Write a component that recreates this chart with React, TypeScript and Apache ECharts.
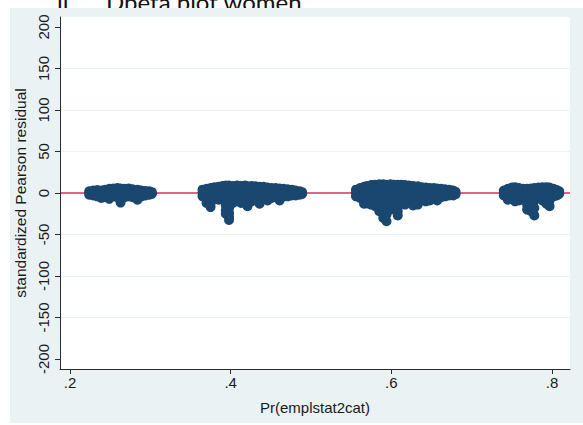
import { useEffect, useRef } from "react";
import * as echarts from "echarts";

// Each column: [predicted probability, standardized residuals observed at that probability]
type Column = [number, number[]];

const xTicks = [0.2, 0.4, 0.6, 0.8];
const yTicks = [-200, -150, -100, -50, 0, 50, 100, 150, 200];
const yGridLines = [-150, -100, -50, 50, 100, 150];
const zeroLine = 0;

const groupLow: Column[] = [
  [0.224, [2, 0, -2]],
  [0.229, [3, 0, -3]],
  [0.234, [3.5, 0, -4]],
  [0.239, [3, 0, -6]],
  [0.244, [4, 0, -5]],
  [0.249, [5, 0, -7]],
  [0.254, [5.5, 0, -4]],
  [0.259, [6, 0, -5]],
  [0.263, [5.5, 0, -6, -11.5]],
  [0.268, [5, 0, -5]],
  [0.273, [5.5, 0, -4]],
  [0.278, [4.5, 0, -5]],
  [0.284, [4, 0, -8]],
  [0.289, [3, 0, -4]],
  [0.294, [2.5, 0, -3]],
  [0.299, [2, 0, -2]],
  [0.302, [1, -1]],
];

const groupMidLow: Column[] = [
  [0.365, [4, 0, -4]],
  [0.37, [5, 0, -6, -12]],
  [0.375, [6, 0, -8, -13, -17]],
  [0.38, [7, 0, -7]],
  [0.385, [7.5, 0, -8]],
  [0.39, [8.5, 0, -8]],
  [0.394, [9, 0, -8, -15, -21, -25]],
  [0.398, [9, 0, -6, -12, -18, -24, -29, -32.5]],
  [0.403, [8.5, 0, -8, -12]],
  [0.408, [9, 0, -7]],
  [0.413, [8.5, 0, -8, -12]],
  [0.418, [9, 0, -6, -11]],
  [0.421, [8, 0, -9, -16]],
  [0.426, [8.5, 0, -7, -10]],
  [0.431, [8, 0, -6]],
  [0.436, [7.5, 0, -7, -13]],
  [0.441, [7.5, 0, -6]],
  [0.446, [6.5, 0, -5, -9]],
  [0.451, [6, 0, -6]],
  [0.456, [6, 0, -5]],
  [0.461, [5.5, 0, -6, -9]],
  [0.466, [5, 0, -4]],
  [0.471, [4.5, 0, -4]],
  [0.476, [4, 0, -3]],
  [0.481, [3, 0, -3]],
  [0.486, [2, 0, -2]],
  [0.489, [1, -1]],
];

const groupMidHigh: Column[] = [
  [0.556, [4, 0, -4]],
  [0.561, [6, 0, -6]],
  [0.566, [7.5, 0, -8, -13]],
  [0.57, [8.5, 0, -8, -12.5]],
  [0.575, [9.5, 0, -9, -14]],
  [0.58, [10, 0, -10, -16]],
  [0.585, [10.5, 0, -10, -16, -22]],
  [0.59, [10.5, 0, -8, -16, -24, -30]],
  [0.594, [10, 0, -10, -18, -26, -34]],
  [0.599, [10.5, 0, -9, -15, -20]],
  [0.603, [10, 0, -10, -18]],
  [0.608, [10, 0, -8, -16, -22, -27]],
  [0.612, [10, 0, -10]],
  [0.617, [9.5, 0, -9, -14]],
  [0.622, [9, 0, -8]],
  [0.627, [8.5, 0, -9, -15]],
  [0.633, [8, 0, -9, -14]],
  [0.638, [7, 0, -7]],
  [0.643, [6.5, 0, -6, -10]],
  [0.648, [6, 0, -6, -9]],
  [0.653, [6, 0, -6]],
  [0.657, [5.5, 0, -5, -9]],
  [0.662, [5, 0, -5]],
  [0.667, [4.5, 0, -4]],
  [0.672, [4, 0, -3]],
  [0.677, [3, 0, -3]],
  [0.68, [1.5, -1.5]],
];

const groupHigh: Column[] = [
  [0.74, [3, 0, -3]],
  [0.745, [5, 0, -5, -8]],
  [0.75, [6.5, 0, -7]],
  [0.754, [7, 0, -6, -10]],
  [0.759, [6, 0, -6, -9]],
  [0.764, [5, 0, -6]],
  [0.769, [5, 0, -8, -14, -20]],
  [0.774, [5.5, 0, -8, -15, -22]],
  [0.778, [6, 0, -9, -18, -27]],
  [0.783, [6.5, 0, -6]],
  [0.788, [7, 0, -6, -9]],
  [0.793, [7, 0, -8, -13]],
  [0.797, [6.5, 0, -9, -16]],
  [0.802, [5, 0, -4]],
  [0.806, [3.5, 0, -3]],
  [0.809, [2, -1]],
];

const FONT = "'Liberation Sans', Arial, Helvetica, sans-serif";
const NAVY = "#1A476F";
const AXIS = "#2b2b2b";
const PANEL = "#EAF2F3";
const TEXT = "#1a1a1a";

export default function App() {
  const ref = useRef<HTMLDivElement>(null);

  useEffect(() => {
    if (!ref.current) return;
    const chart = echarts.init(ref.current, null, { renderer: "svg" });

    const points = [...groupLow, ...groupMidLow, ...groupMidHigh, ...groupHigh].flatMap(
      ([x, ys]) => ys.map((y) => [x, y])
    );

    chart.setOption({
      animation: false,
      backgroundColor: "#ffffff",
      graphic: [
        {
          type: "text",
          z: 0,
          left: 57,
          top: -11,
          style: { text: "ii.", font: "24px Lato, 'Open Sans', sans-serif", fill: "#111" },
        },
        {
          type: "text",
          z: 0,
          left: 106,
          top: -11,
          style: { text: "Dbeta plot women", font: "24px Lato, 'Open Sans', sans-serif", fill: "#111" },
        },
        {
          type: "rect",
          z: 1,
          shape: { x: 10, y: 8, width: 573, height: 415 },
          style: { fill: PANEL },
        },
        {
          type: "rect",
          z: 2,
          shape: { x: 60, y: 17, width: 510, height: 352 },
          style: { fill: "#ffffff" },
        },
      ],
      grid: { left: 60, top: 17, right: 13, bottom: 56 },
      xAxis: {
        type: "value",
        z: 5,
        min: 0.1876,
        max: 0.8224,
        splitLine: { show: false },
        axisLine: { show: true, onZero: false, lineStyle: { color: AXIS, width: 1 } },
        axisTick: { show: true, length: 5, customValues: xTicks, lineStyle: { color: AXIS } },
        axisLabel: {
          customValues: xTicks,
          formatter: (v: number) => v.toFixed(1).replace(/^0/, ""),
          color: TEXT,
          fontSize: 15,
          fontFamily: FONT,
          margin: 6,
        },
        name: "Pr(emplstat2cat)",
        nameLocation: "middle",
        nameGap: 31,
        nameTextStyle: { color: TEXT, fontSize: 15, fontFamily: FONT },
      },
      yAxis: {
        type: "value",
        z: 5,
        min: -212,
        max: 212,
        splitLine: { show: false },
        axisLine: { show: true, onZero: false, lineStyle: { color: AXIS, width: 1 } },
        axisTick: { show: true, length: 5, customValues: yTicks, lineStyle: { color: AXIS } },
        axisLabel: {
          customValues: yTicks,
          rotate: 90,
          color: TEXT,
          fontSize: 15,
          fontFamily: FONT,
          margin: 9,
        },
        name: "standardized Pearson residual",
        nameLocation: "middle",
        nameRotate: 90,
        nameGap: 30,
        nameTextStyle: { color: TEXT, fontSize: 15.5, fontFamily: FONT },
      },
      series: [
        {
          type: "scatter",
          z: 4,
          data: [],
          silent: true,
          markLine: {
            silent: true,
            symbol: "none",
            label: { show: false },
            data: [
              ...yGridLines.map((v) => ({
                yAxis: v,
                lineStyle: { color: PANEL, width: 1, type: "solid" },
              })),
              {
                yAxis: zeroLine,
                lineStyle: { color: "#D8315B", width: 1.6, type: "solid" },
              },
            ],
          },
        },
        {
          type: "scatter",
          z: 6,
          data: points,
          symbol: "circle",
          symbolSize: 10,
          itemStyle: { color: NAVY, opacity: 1 },
          silent: true,
        },
      ],
    });

    return () => chart.dispose();
  }, []);

  return (
    <div
      ref={ref}
      style={{ position: "absolute", left: 0, top: 0, width: 583, height: 425 }}
    />
  );
}
